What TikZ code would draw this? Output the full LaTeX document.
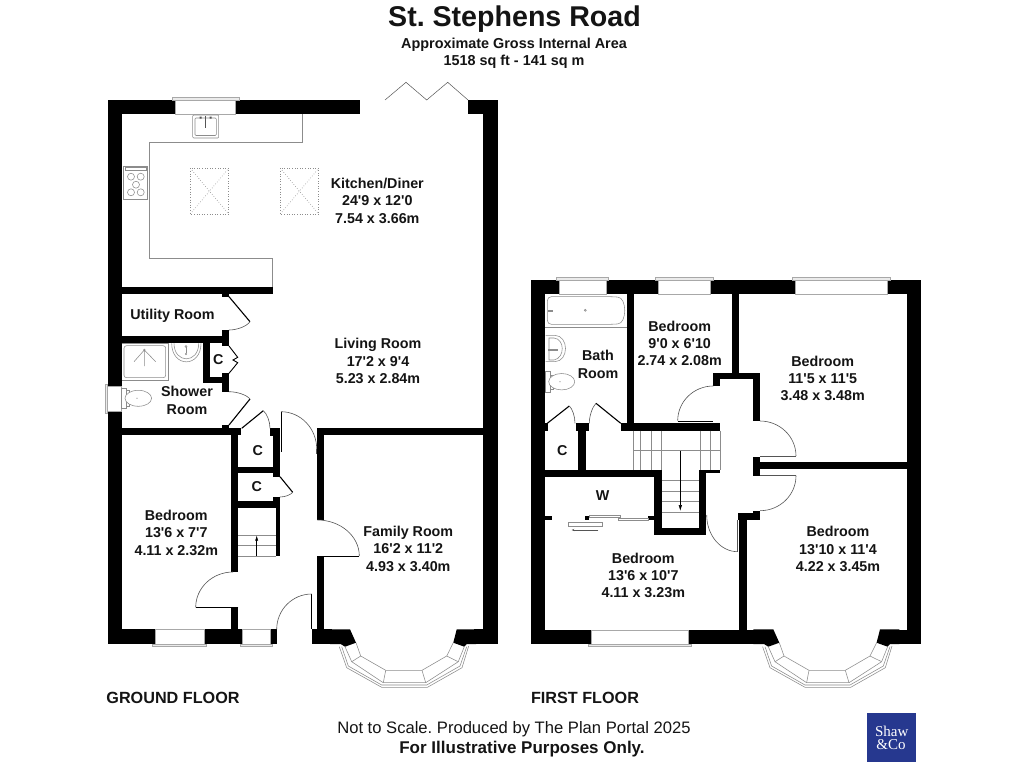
\documentclass[tikz,border=0pt]{standalone}
\usepackage{fontspec}
\usetikzlibrary{calc,arrows.meta}
\newfontfamily\arialf{Liberation Sans}
\newfontfamily\timesf{Liberation Serif}
\frenchspacing
\definecolor{logoblue}{HTML}{26388F}
\definecolor{fixgray}{HTML}{8C8C8C}
\definecolor{wingray}{HTML}{A8A8A8}
\definecolor{arcgray}{HTML}{555555}
\tikzset{
 fix/.style={draw=fixgray,line width=0.55pt},
 fixdark/.style={draw=arcgray,line width=0.5pt},
 leaf/.style={draw=black,line width=1.1pt},
 doorarc/.style={draw=arcgray,line width=0.6pt},
 wintop/.style={draw=wingray,line width=0.6pt,fill=white},
 strip/.style={draw=wingray,line width=0.5pt,fill=black!8},
 stairline/.style={draw=fixgray,line width=0.5pt},
 sky/.style={draw=fixgray,line width=0.6pt,dotted},
 lbl/.style={font=\arialf\bfseries\fontsize{14.3}{17.3}\selectfont,align=center,text=black!92,inner sep=0pt},
}
\newcommand\wl[4]{\fill[black] (#1,#2) rectangle (#3,#4);}
\newcommand\qarc[3]{\draw[doorarc] (#1) .. controls ($(#1)!0.552!(#2)$) and ($(#3)!0.552!(#2)$) .. (#3);}
\newcommand\bayfig[1]{%
 \begin{scope}[shift={(#1,0)}]
  \fill[black] (330,629.3)--(350,629.3)--(356,642.7)--(345,646.7)--(340.7,644)--(330,644)--cycle;
  \fill[black] (476,629.3)--(456.7,629.3)--(453.3,642.7)--(464.3,646.7)--(466.7,644)--(476,644)--cycle;
  \draw[fix] (356,642.7)--(360.7,656)--(385.7,670.3)--(422,670.3)--(446.7,656)--(453.3,642.7);
  \draw[fix] (345,646.7)--(351.7,661.7)--(383.3,682.7)--(425.7,682.7)--(458.3,661.7)--(464.3,646.7);
  \draw[fix] (341.7,646.7)--(348.3,666)--(381.7,685)--(426.7,685)--(460,666)--(466.7,646.7);
  \draw[fix] (339.3,646.7)--(346.7,667.7)--(381.7,687.3)--(427.4,687.3)--(462,667.7)--(468.7,646);
  \draw[fix] (360.7,656)--(351.7,661.7) (385.7,670.3)--(383.3,682.7) (422,670.3)--(425.7,682.7) (446.7,656)--(458.3,661.7);
 \end{scope}}
\begin{document}
\begin{tikzpicture}[x=1pt,y=-1pt]
\useasboundingbox (0,0) rectangle (1024,768);
\fill[white] (0,0) rectangle (1024,768);

%%% GROUND FLOOR walls
\wl{107.5}{99.5}{359.7}{114}
\wl{468}{99.5}{497.7}{114}
\wl{107.5}{99.5}{121.7}{644}
\wl{483.3}{99.5}{497.7}{644}
\wl{121.7}{286.7}{272.7}{294.3}
\wl{222}{294}{229}{296.5}
\wl{222}{330}{229}{343}
\wl{121.7}{336}{229}{343.3}
\wl{202.7}{343}{210}{383.3}
\wl{202.7}{376.7}{229}{383.3}
\wl{222}{336}{229}{346}
\wl{222}{373.3}{229}{391.7}
\wl{222}{424.7}{229}{429}
\wl{121.7}{428.3}{241.3}{435.3}
\wl{231}{428.3}{238.3}{572}
\wl{231}{607.7}{238.3}{630}
\wl{270}{428.3}{280}{436}
\wl{272.7}{436}{280}{476.7}
\wl{238}{466.7}{280}{472.7}
\wl{272.7}{497}{280}{508}
\wl{238}{501}{280}{508}
\wl{275.7}{508}{280}{556}
\wl{317.3}{428.3}{324.3}{520}
\wl{317.3}{556}{324.3}{630}
\wl{317.3}{428.3}{490}{435.3}
% bottom wall
\wl{107.5}{629.3}{155}{644}
\wl{204.3}{629.3}{242.3}{644}
\wl{270}{629.3}{276.7}{644}
\wl{311.7}{629.3}{332}{644}
\wl{474}{629.3}{497.7}{644}
\bayfig{0}

% windows ground
\draw[wintop] (175,99.5) rectangle (235.7,114);
\draw[strip] (172.7,97) rectangle (239,100);
\draw[wintop] (155,629.3) rectangle (204.3,644);
\draw[strip] (152.3,644) rectangle (206.7,646.7);
\draw[wintop] (242.3,629.3) rectangle (270,644);
\draw[strip] (240,644) rectangle (272.3,646.7);
\draw[wintop] (107.5,386.7) rectangle (121.7,411.7);
\draw[strip] (105,384) rectangle (107.5,413.5);

% bifold doors
\draw[fixdark] (385,100)--(406,82.3)--(426.7,100)--(447.7,82.3)--(468,100);

% kitchen worktop
\draw[fix] (302.3,114)--(302.3,142)--(149.7,142)--(149.7,258.3)--(272.7,258.3)--(272.7,286.7);
% sink
\draw[fix,fill=white,rounded corners=1pt] (192.7,115) rectangle (218.7,138);
\draw[fix,rounded corners=1pt] (195,118) rectangle (216.3,135.5);
\draw[fixdark] (205.7,116)--(205.7,128);
\fill[arcgray] (199.5,116.5) rectangle (201.5,118.5) (209.5,116.5) rectangle (211.5,118.5);
% hob
\draw[fix,fill=white] (123.3,166) rectangle (147.7,199.3);
\draw[fix] (125,167.3) rectangle (146.5,170.5);
\foreach \hx/\hy in {131/176.7,140.7/176.7,136/184.7,131/192.3,140.7/192.3}
 \draw[fix] (\hx,\hy) circle (3.5);
% skylights
\foreach \sx in {190.3,280.3}{
 \draw[sky] (\sx,168.3) rectangle ({\sx+38.4},214);
 \draw[sky] (\sx,168.3)--({\sx+38.4},214) (\sx,214)--({\sx+38.4},168.3);
}

% utility door
\draw[leaf] (229,296.7)--(250,321.7);
\coordinate (ua) at (250,321.7); \coordinate (ub) at (229,330); \coordinate (uc) at (244,330);
\qarc{ua}{uc}{ub}
% C bifold
\draw[leaf,line width=0.9pt] (229,346)--(237.7,357.3)--(233,360)--(237.7,362.7)--(229,373.3);
% shower door
\draw[leaf] (229,425)--(250,399);
\coordinate (sa) at (250,399); \coordinate (sb) at (229,391.7); \coordinate (sc) at (244,391.7);
\qarc{sa}{sc}{sb}
% upper C door
\draw[leaf] (241.7,428.3)--(263.3,410.7);
\coordinate (ca) at (263.3,410.7); \coordinate (cb) at (270,428.3); \coordinate (cc) at (270,416);
\qarc{ca}{cc}{cb}
% hall door
\draw[leaf,line width=0.8pt] (281,411.7)--(281,452);
\coordinate (ha) at (281,411.7); \coordinate (hb) at (316.7,449); \coordinate (hc) at (316.7,411.7);
\qarc{ha}{hc}{hb}
\draw[fixdark,line width=0.8pt] (316.7,449)--(316.7,454);
% lower C door
\draw[leaf] (280,476.7)--(292.7,492.3);
\coordinate (la) at (292.7,492.3); \coordinate (lb) at (280,497); \coordinate (lc) at (289,497);
\qarc{la}{lc}{lb}
% stairs ground
\foreach \sy in {535,545.3,556} \draw[stairline] (238.3,\sy)--(275.7,\sy);
\draw[black,line width=0.5pt,-{Latex[length=5pt,width=3pt]}] (256.7,556)--(256.7,535.5);
% family room door
\draw[leaf,line width=0.8pt] (317.3,556)--(359.3,556);
\coordinate (fa) at (317.3,520); \coordinate (fb) at (359.3,556); \coordinate (fc) at (359.3,520);
\qarc{fa}{fc}{fb}
% bedroom door
\draw[leaf,line width=0.8pt] (238.3,607.3)--(195.7,607.3);
\coordinate (ba) at (233,572); \coordinate (bb) at (195.7,607.3); \coordinate (bc) at (195.7,572);
\qarc{ba}{bc}{bb}
% front door
\draw[leaf,line width=0.8pt] (311.7,594)--(311.7,629.3);
\coordinate (da) at (311.7,594); \coordinate (db) at (276.7,629.3); \coordinate (dc) at (276.7,594);
\qarc{da}{dc}{db}

% shower tray
\draw[fix] (121.7,343.3)--(168.3,343.3)--(168.3,380)--(121.7,380);
\draw[fix,rounded corners=2.5pt] (124,345.7) rectangle (165.7,377.7);
\draw[fix] (144.3,350)--(134,361.7) (144.3,350)--(155.7,361.7) (144.3,350)--(144.3,366);
\draw[fix] (144.3,350) circle (0.9);
% shower basin
\draw[fix] (171.7,343.3) .. controls (171.7,368) and (201,368) .. (201,343.3);
\draw[fix] (174,343.3) .. controls (174,364) and (198.7,364) .. (198.7,343.3);
\draw[fix] (186,346.5) circle (1) (186,354) circle (0.8);
\draw[fix] (186,347)--(186,353);
% shower toilet
\draw[fix,fill=white] (121.7,388) rectangle (126,408.3);
\draw[fix] (126,390.5) rectangle (129,406);
\draw[fix,fill=white] (138.3,398.3) ellipse (13.3 and 8);
\fill[fixgray] (137,398.3) circle (0.6);

%%% FIRST FLOOR walls
\wl{531}{280}{559}{294}
\wl{606}{280}{658.3}{294}
\wl{710.3}{280}{795}{294}
\wl{887.7}{280}{921}{294}
\wl{531}{280}{545}{644}
\wl{906.7}{280}{921}{644}
\wl{626.7}{294}{633.7}{430.7}
\wl{621}{423.3}{720}{430.7}
\wl{731.7}{294}{739}{379}
\wl{713.3}{372.7}{760}{379.3}
\wl{713.3}{372.7}{720}{386}
\wl{752.7}{372.7}{760}{421}
\wl{545}{423.3}{548}{430.7}
\wl{575.7}{423.3}{589}{430.7}
\wl{578.3}{430.7}{585.7}{470}
\wl{545}{470}{661.7}{477.3}
\wl{654.3}{470}{661.7}{535.3}
\wl{654.3}{528.3}{705.7}{535.3}
\wl{699.3}{470}{705.7}{535.3}
\wl{699.3}{470}{720}{473.3}
\wl{752.7}{456.7}{760}{475.7}
\wl{752.7}{461.7}{906.7}{469}
\wl{752.7}{510.7}{760}{520.3}
\wl{738.3}{513.3}{760}{520.3}
\wl{739}{513.3}{746.7}{630}
\wl{545}{516}{552}{520.3}
\wl{585}{516}{589.3}{520.3}
\wl{648.3}{516}{655}{520.3}
% bottom
\wl{531}{630}{591.3}{644}
\wl{688.3}{630}{755}{644}
\wl{897.3}{630}{921}{644}
\bayfig{423.3}

% windows first floor
\draw[wintop] (559,280) rectangle (606,294);
\draw[strip] (556.3,277.3) rectangle (608.7,280);
\draw[wintop] (658.3,280) rectangle (710.3,294);
\draw[strip] (655.7,277.3) rectangle (713,280);
\draw[wintop] (795,280) rectangle (887.7,294);
\draw[strip] (792.7,277.3) rectangle (890,280);
\draw[wintop] (591.3,630) rectangle (688.3,644);
\draw[strip] (588.3,644) rectangle (691,646.7);

% bath
\draw[fix,rounded corners=4pt] (547.3,296.7)--(614,296.7) .. controls (627,298) and (627,323) .. (614,324.3)--(547.3,324.3)--cycle;
\draw[fix] (545,327.3)--(626.7,327.3);
\draw[fix] (585.3,310.3) circle (1);
\draw[fix] (548,310) rectangle (552,311.5);
% bath basin
\draw[fix] (545.7,335.3)--(555,335.3) .. controls (569,336) and (569,361) .. (555,361.7)--(545.7,361.7);
\draw[fix] (549,338)--(554,338) .. controls (565,339) and (565,358) .. (554,360)--(549,360)--cycle;
\draw[fix] (548,349) rectangle (557,350);
% bath toilet
\draw[fix] (545.7,371.7) rectangle (550,392.3);
\draw[fix] (550,375) rectangle (553,389);
\draw[fix,fill=white] (561.7,381.7) ellipse (13 and 8.2);
\fill[fixgray] (560,381.7) circle (0.6);

% bath doors
\draw[leaf] (547.3,423.3)--(569.3,406);
\coordinate (pa) at (569.3,406); \coordinate (pb) at (575,423.3); \coordinate (pc) at (575,411);
\qarc{pa}{pc}{pb}
\draw[leaf] (620.7,423.3)--(596,403.3);
\coordinate (qa) at (596,403.3); \coordinate (qb) at (589.3,423.3); \coordinate (qc) at (589.3,410);
\qarc{qa}{qc}{qb}
% bedroom 2 door
\draw[leaf,line width=1pt] (677.7,421.5)--(713.3,421.5);
\coordinate (ra) at (713.3,386); \coordinate (rb) at (677.7,420.7); \coordinate (rc) at (677.7,386);
\qarc{ra}{rc}{rb}
% bedroom 1 door
\draw[fixdark,line width=0.8pt] (760,456.3)--(796,456.3);
\coordinate (va) at (760,421); \coordinate (vb) at (796,456); \coordinate (vc) at (796,421);
\qarc{va}{vc}{vb}
% bedroom 4 door
\draw[fixdark,line width=0.8pt] (760,475.7)--(796,475.7);
\coordinate (wa) at (796,475.7); \coordinate (wb) at (760,510.7); \coordinate (wc) at (796,510.7);
\qarc{wa}{wc}{wb}
% bedroom 3 door
\draw[fixdark,line width=0.8pt] (737.7,520)--(737.7,551.7);
\coordinate (xa) at (706.7,515); \coordinate (xb) at (737.7,551.7); \coordinate (xc) at (706.7,551.7);
\qarc{xa}{xc}{xb}

% stairs first floor
\foreach \sx in {640.7,651.3,700,710,720}
 \draw[stairline] (\sx,430.7)--(\sx,470);
\draw[stairline] (633.7,430.7)--(633.7,470);
\draw[stairline] (633.7,450.7)--(720,450.7);
\draw[stairline] (661.7,430.7)--(661.7,470);
\foreach \sy in {480.7,491,501.7,512.3}
 \draw[stairline] (661.7,\sy)--(699.3,\sy);
\draw[black,line width=0.5pt,-{Latex[length=6pt,width=3.5pt]}] (680.3,450.7)--(680.3,511);

% wardrobe sliders
\draw[fix,fill=white] (589.3,515.7) rectangle (620,517.7);
\draw[fix,fill=white] (618.3,518) rectangle (648.3,520);
\draw[fix,fill=white] (568.3,522.3) rectangle (602.3,526.7);
\draw[fixdark,-{Stealth[length=2.5pt,width=2pt]}] (598.3,530)--(571.7,530);

%%% labels
\node[lbl] (kitchen) at (377.3,200.7) {Kitchen/Diner\\24'9 x 12'0\\7.54 x 3.66m};
\node[lbl] (living) at (378,361) {Living Room\\17'2 x 9'4\\5.23 x 2.84m};
\node[lbl] (utility) at (172.5,316) {Utility Room};
\node[lbl] (shower) at (187,400.5) {Shower\\Room};
\node[lbl] (cone) at (218.3,359.5) {C};
\node[lbl] (ctwo) at (257.7,451) {C};
\node[lbl] (cthree) at (256.7,486.7) {C};
\node[lbl] (bedg) at (176.3,532.7) {Bedroom\\13'6 x 7'7\\4.11 x 2.32m};
\node[lbl] (family) at (408.3,548.7) {Family Room\\16'2 x 11'2\\4.93 x 3.40m};
\node[lbl] (bath) at (598,364.5) {Bath\\Room};
\node[lbl] (bedb) at (679.7,343.3) {Bedroom\\9'0 x 6'10\\2.74 x 2.08m};
\node[lbl] (bedc) at (822.7,378.3) {Bedroom\\11'5 x 11'5\\3.48 x 3.48m};
\node[lbl] (bedd) at (643.3,575.3) {Bedroom\\13'6 x 10'7\\4.11 x 3.23m};
\node[lbl] (bede) at (838,549) {Bedroom\\13'10 x 11'4\\4.22 x 3.45m};
\node[lbl] (cfour) at (562.3,451) {C};
\node[lbl] (wardrobe) at (602.7,496) {W};
\node[lbl,font=\arialf\bfseries\fontsize{16.2}{18}\selectfont] (ground) at (173,698) {GROUND FLOOR};
\node[lbl,font=\arialf\bfseries\fontsize{16.2}{18}\selectfont] (first) at (585,698) {FIRST FLOOR};

\node[lbl,font=\arialf\bfseries\fontsize{28.6}{30}\selectfont] (title) at (514.5,19.5) {St. Stephens Road};
\node[lbl,font=\arialf\bfseries\fontsize{14.4}{17}\selectfont] (sub) at (514,53) {Approximate Gross Internal Area\\1518 sq ft - 141 sq m};
\node[lbl,font=\arialf\fontsize{16.6}{18}\selectfont] (note) at (514,729) {Not to Scale. Produced by The Plan Portal 2025};
\node[lbl,font=\arialf\bfseries\fontsize{17}{18}\selectfont] (illus) at (522,749) {For Illustrative Purposes Only.};

% logo
\fill[logoblue] (867.3,712.7) rectangle (916.3,762);
\node[inner sep=0pt,text=white,font=\timesf\fontsize{15}{15}\selectfont] (shaw) at (891.8,731.5) {Shaw};
\node[inner sep=0pt,text=white,font=\timesf\fontsize{15}{15}\selectfont] (co) at (891,745) {\&Co};
\end{tikzpicture}
\end{document}
